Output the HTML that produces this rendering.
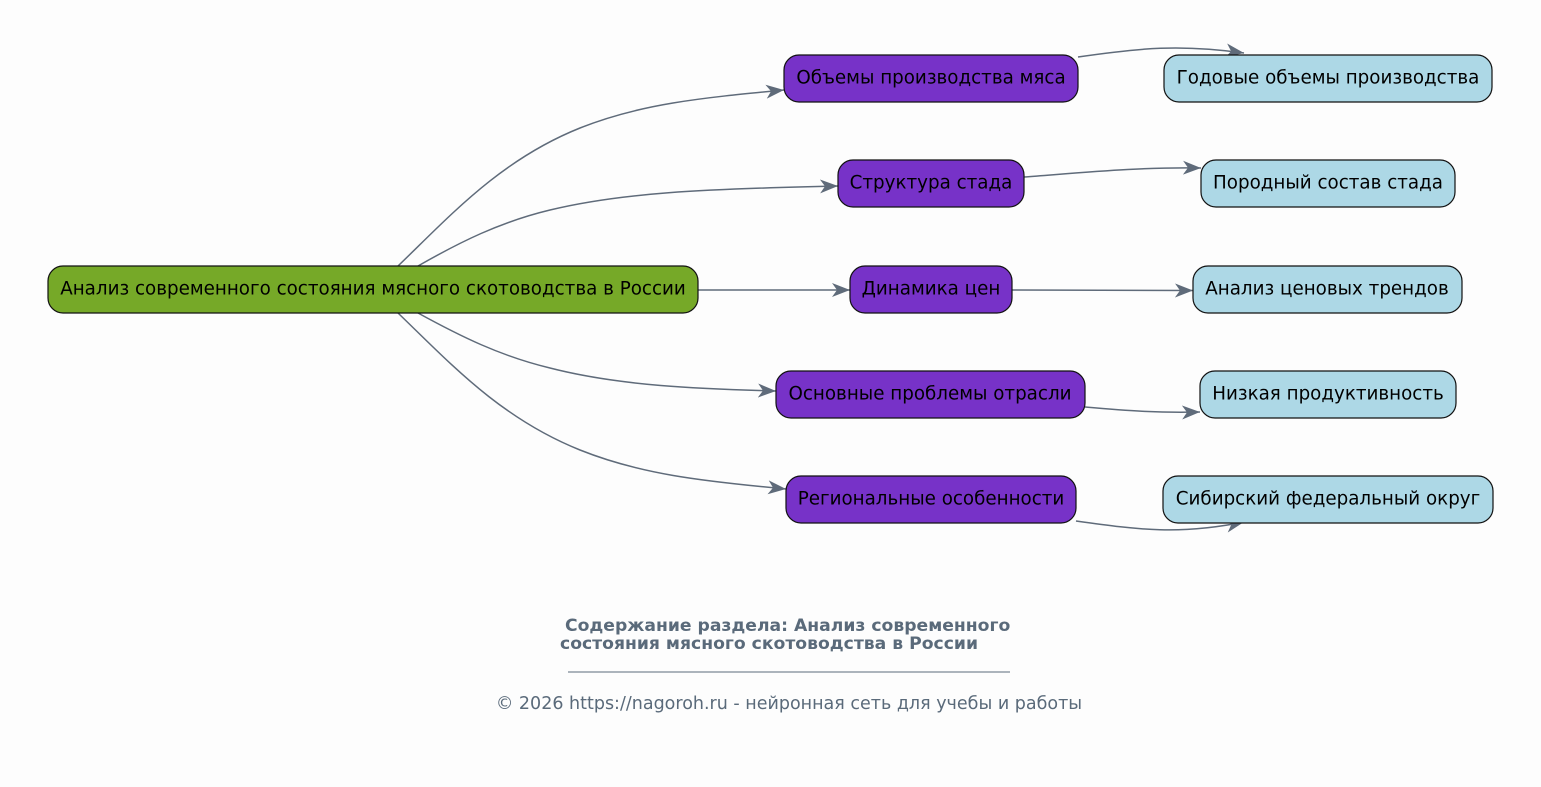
<!DOCTYPE html>
<html><head><meta charset="utf-8"><style>
html,body{margin:0;padding:0;background:#fdfdfd;}
svg{display:block;}
text{font-family:"DejaVu Sans","Liberation Sans",sans-serif;}
</style></head><body>
<svg width="1541" height="787" viewBox="0 0 1541 787" xmlns="http://www.w3.org/2000/svg">
<defs>
<marker id="a" markerWidth="20" markerHeight="14" refX="18" refY="7" orient="auto" markerUnits="userSpaceOnUse">
<path d="M0,0 L18,7 L0,14 L5,7 Z" fill="#5f6b7a"/>
</marker>
</defs>
<rect width="1541" height="787" fill="#fdfdfd"/>
<g fill="none" stroke="#5f6b7a" stroke-width="1.5" marker-end="url(#a)">
<path d="M398,266 C450,216 500,160 580,128 C640,104 700,98 784,90"/>
<path d="M418,266 C460,242 500,222 550,210 C620,193 700,189 838,186"/>
<path d="M698,290 L850,290"/>
<path d="M418,313 C460,336 500,356 550,368 C620,386 700,389 776,391"/>
<path d="M398,313 C450,363 500,418 580,450 C640,474 700,481 786,489"/>
<path d="M1078,57 C1140,48 1180,44 1244,53"/>
<path d="M1024,177 C1090,172 1140,167 1201,168"/>
<path d="M1012,290 L1193,290.5"/>
<path d="M1085,407 C1130,411 1160,413 1200,412"/>
<path d="M1076,521 C1140,530 1180,535 1244,522"/>
</g>
<g stroke="#111" stroke-width="1.2">
<rect x="48" y="266" width="650" height="47" rx="15" fill="#76a928"/>
<rect x="784" y="55" width="294" height="47" rx="15" fill="#7732c8"/>
<rect x="838" y="160" width="186" height="47" rx="15" fill="#7732c8"/>
<rect x="850" y="266" width="162" height="47" rx="15" fill="#7732c8"/>
<rect x="776" y="371" width="309" height="47" rx="15" fill="#7732c8"/>
<rect x="786" y="476" width="290" height="47" rx="15" fill="#7732c8"/>
<rect x="1164" y="55" width="328" height="47" rx="15" fill="#add8e6"/>
<rect x="1201" y="160" width="254" height="47" rx="15" fill="#add8e6"/>
<rect x="1193" y="266" width="269" height="47" rx="15" fill="#add8e6"/>
<rect x="1200" y="371" width="256" height="47" rx="15" fill="#add8e6"/>
<rect x="1163" y="476" width="330" height="47" rx="15" fill="#add8e6"/>
</g>
<g font-size="18.3" fill="#000" text-anchor="middle">
<text x="373" y="294.5">Анализ современного состояния мясного скотоводства в России</text>
<text x="931" y="83.5">Объемы производства мяса</text>
<text x="931" y="188.5">Структура стада</text>
<text x="931" y="294.5">Динамика цен</text>
<text x="930" y="399.5">Основные проблемы отрасли</text>
<text x="931" y="504.5">Региональные особенности</text>
<text x="1328" y="83.5">Годовые объемы производства</text>
<text x="1328" y="188.5">Породный состав стада</text>
<text x="1327" y="294.5">Анализ ценовых трендов</text>
<text x="1328" y="399.5">Низкая продуктивность</text>
<text x="1328" y="504.5">Сибирский федеральный округ</text>
</g>
<g fill="#5a6a7a" font-size="17.2">
<text x="565" y="631" font-weight="bold">Содержание раздела: Анализ современного</text>
<text x="560" y="649" font-weight="bold">состояния мясного скотоводства в России</text>
<line x1="568" y1="672" x2="1010" y2="672" stroke="#5a6a7a" stroke-width="1"/>
<text x="789" y="709" text-anchor="middle" font-size="17.5">© 2026 https://nagoroh.ru - нейронная сеть для учебы и работы</text>
</g>
</svg>
</body></html>
